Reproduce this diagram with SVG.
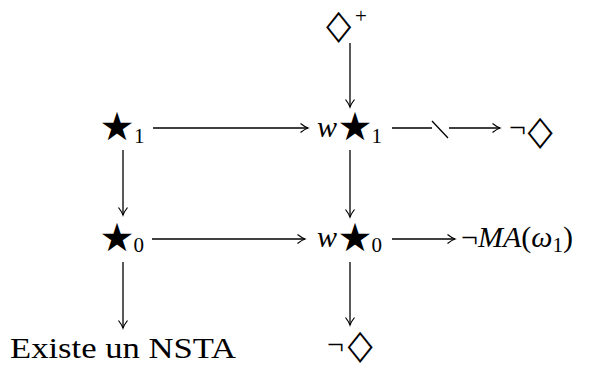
<svg xmlns="http://www.w3.org/2000/svg" width="595" height="368" viewBox="0 0 595 368">
<defs>
<style>
.rm{font-family:"Liberation Serif","DejaVu Serif",serif;font-size:30px;fill:#000}
.it{font-family:"Liberation Serif","DejaVu Serif",serif;font-style:italic;font-size:30px;fill:#000}
.sub{font-family:"Liberation Serif","DejaVu Serif",serif;font-size:21px;fill:#000}
.st{font-family:"DejaVu Sans",sans-serif;font-size:39px;fill:#000}
.dm{font-family:"DejaVu Sans",sans-serif;font-size:41px;fill:#000}
.ln{stroke:#000;stroke-width:1.3;fill:none;marker-end:url(#ah)}
.pl{stroke:#000;stroke-width:1.3;fill:none}
</style>
<marker id="ah" markerUnits="userSpaceOnUse" markerWidth="12" markerHeight="12" viewBox="-9 -6 10 12" refX="0" refY="0" orient="auto">
<path d="M-7.5,-4.5 Q-3,-1 0,0 Q-3,1 -7.5,4.5" fill="none" stroke="#000" stroke-width="1.2"/>
</marker>
</defs>
<g id="dplus">
<text class="dm" transform="translate(338.5,38) scale(0.8,1)" text-anchor="middle">◇</text>
<text class="sub" x="355" y="23">+</text>
</g>
<g id="star1">
<text class="st" x="117" y="139.5" text-anchor="middle">★</text>
<text class="sub" x="134" y="143">1</text>
</g>
<g id="wstar1">
<text class="it" x="317" y="137">w</text>
<text class="st" x="355" y="139.5" text-anchor="middle">★</text>
<text class="sub" x="371.5" y="143">1</text>
</g>
<g id="negd1">
<text class="rm" x="509" y="137">¬</text>
<text class="dm" transform="translate(540,144) scale(0.8,1)" text-anchor="middle">◇</text>
</g>
<g id="star0">
<text class="st" x="117" y="250.5" text-anchor="middle">★</text>
<text class="sub" x="133.5" y="252">0</text>
</g>
<g id="wstar0">
<text class="it" x="317" y="247">w</text>
<text class="st" x="355" y="250.5" text-anchor="middle">★</text>
<text class="sub" x="371.5" y="252">0</text>
</g>
<g id="negMA">
<text class="rm" x="461" y="247">¬<tspan class="it">MA</tspan>(<tspan class="it">ω</tspan><tspan class="sub" dy="5">1</tspan><tspan dy="-5">)</tspan></text>
</g>
<g id="nsta">
<text class="rm" x="10" y="358" textLength="226" lengthAdjust="spacingAndGlyphs">Existe un NSTA</text>
</g>
<g id="negd0">
<text class="rm" x="327" y="354">¬</text>
<text class="dm" transform="translate(360,358) scale(0.8,1)" text-anchor="middle">◇</text>
</g>
<g id="connectors">
<line class="ln" x1="350" y1="43" x2="350" y2="107"/>
<line class="ln" x1="153" y1="128" x2="308" y2="128"/>
<path class="pl" d="M392,128 H432 M432,121 L448,138"/>
<line class="ln" x1="449" y1="128" x2="500" y2="128"/>
<line class="ln" x1="123" y1="150" x2="123" y2="215"/>
<line class="ln" x1="350" y1="150" x2="350" y2="217"/>
<line class="ln" x1="152" y1="239" x2="305" y2="239"/>
<line class="ln" x1="392" y1="239" x2="455" y2="239"/>
<line class="ln" x1="123" y1="262" x2="123" y2="328"/>
<line class="ln" x1="350" y1="262" x2="350" y2="325"/>
</g>
</svg>
